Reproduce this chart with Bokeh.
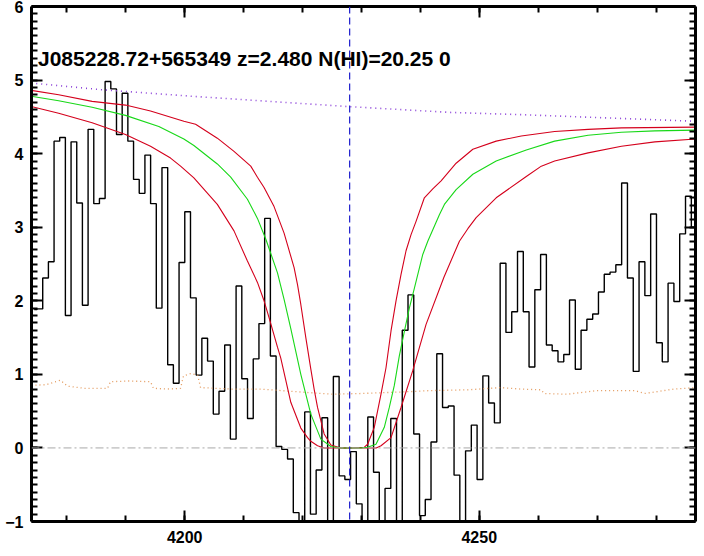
from bokeh.plotting import figure
from bokeh.models import (Range1d, LinearAxis, SingleIntervalTicker, Span, Label,
                          CustomLabelingPolicy)
from bokeh.embed import file_html
from bokeh.resources import INLINE

# ---------------- data ----------------
# observed spectrum (bin centres, Angstrom) and flux
wave = [
    4174.46, 4175.42, 4176.39, 4177.35, 4178.31, 4179.27, 4180.23, 4181.20, 4182.16, 4183.12,
    4184.09, 4185.05, 4186.01, 4186.98, 4187.94, 4188.91, 4189.87, 4190.84, 4191.80, 4192.77,
    4193.73, 4194.70, 4195.66, 4196.63, 4197.60, 4198.56, 4199.53, 4200.50, 4201.47, 4202.43,
    4203.40, 4204.37, 4205.34, 4206.31, 4207.27, 4208.24, 4209.21, 4210.18, 4211.15, 4212.12,
    4213.09, 4214.06, 4215.03, 4216.00, 4216.97, 4217.95, 4218.92, 4219.89, 4220.86, 4221.83,
    4222.80, 4223.78, 4224.75, 4225.72, 4226.70, 4227.67, 4228.64, 4229.62, 4230.59, 4231.57,
    4232.54, 4233.52, 4234.49, 4235.47, 4236.44, 4237.42, 4238.39, 4239.37, 4240.35, 4241.32,
    4242.30, 4243.28, 4244.25, 4245.23, 4246.21, 4247.19, 4248.16, 4249.14, 4250.12, 4251.10,
    4252.08, 4253.06, 4254.03, 4255.02, 4256.00, 4256.98, 4257.96, 4258.94, 4259.92, 4260.90,
    4261.88, 4262.87, 4263.85, 4264.83, 4265.81, 4266.79, 4267.77, 4268.76, 4269.74, 4270.72,
    4271.71, 4272.69, 4273.67, 4274.66, 4275.64, 4276.63, 4277.61, 4278.60, 4279.58, 4280.57,
    4281.55, 4282.54, 4283.53, 4284.51, 4285.50, 4286.49,
]
flux = [
    1.88, 1.89, 2.31, 2.53, 4.17, 4.22, 1.80, 4.16, 3.33, 1.94,
    4.33, 3.32, 3.39, 4.98, 4.88, 4.26, 4.82, 4.17, 3.65, 3.46,
    3.98, 3.32, 1.90, 3.81, 1.13, 0.88, 2.52, 3.21, 2.04, 0.99,
    1.49, 1.18, 0.46, 0.77, 1.40, 0.12, 2.20, 0.94, 0.40, 1.21,
    1.69, 3.12, 1.25, 0.02, -0.02, -0.15, -0.88, -1.10, 0.49, -0.90,
    -0.30, 0.41, -1.15, 0.97, -0.38, -0.43, -0.05, -0.76, -1.20, 0.42,
    -0.33, -1.15, -0.55, 0.40, -1.10, 1.60, 2.08, 0.19, -0.92, -0.70,
    0.08, 1.28, 0.55, 0.57, -0.37, -1.15, -0.04, 0.31, -0.43, 0.98,
    0.61, 0.34, 2.51, 1.57, 1.85, 2.67, 1.85, 1.10, 2.15, 2.63,
    1.40, 1.32, 1.17, 1.27, 2.01, 1.07, 1.60, 1.75, 1.82, 2.12,
    2.36, 2.39, 2.49, 3.60, 2.31, 1.04, 2.53, 2.07, 3.18, 1.43,
    1.17, 2.24, 1.99, 2.91, 3.42, 3.00,
]

# best-fit DLA model (green)
model_wave = [4173.96, 4178.61, 4184.29, 4189.95, 4195.61, 4199.86, 4201.56, 4205.54, 4207.81, 4210.65,
              4212.35, 4213.76, 4215.75, 4216.87, 4218.01, 4219.71, 4221.41, 4223.11, 4224.81, 4226.51,
              4228.21, 4229.91, 4231.05, 4232.47, 4233.88, 4234.73, 4235.58, 4236.43, 4237.28, 4238.13,
              4238.98, 4240.41, 4241.26, 4243.23, 4244.08, 4246.07, 4248.91, 4252.87, 4257.98, 4262.79,
              4268.47, 4274.13, 4279.80, 4286.70]
model_flux = [4.78, 4.72, 4.63, 4.52, 4.37, 4.20, 4.11, 3.86, 3.68, 3.38,
              3.12, 2.84, 2.38, 2.02, 1.62, 1.00, 0.46, 0.12, 0.02, 0.00,
              0.00, 0.00, 0.01, 0.05, 0.28, 0.55, 0.85, 1.25, 1.58, 1.90,
              2.17, 2.63, 2.81, 3.17, 3.31, 3.51, 3.72, 3.90, 4.05, 4.17,
              4.25, 4.29, 4.31, 4.32]

# model with N(HI) - error (red, narrower trough)
low_n_wave = [4173.96, 4178.61, 4184.29, 4189.95, 4194.20, 4199.86, 4201.85, 4205.54, 4208.37, 4211.21,
              4212.35, 4213.47, 4215.17, 4216.87, 4217.45, 4218.57, 4219.15, 4219.71, 4220.56, 4221.41,
              4221.97, 4222.55, 4223.67, 4224.81, 4226.51, 4228.21, 4230.50, 4231.05, 4232.18, 4233.32,
              4234.17, 4235.02, 4235.87, 4236.72, 4237.57, 4238.42, 4239.27, 4240.68, 4242.11, 4243.52,
              4246.07, 4248.91, 4252.87, 4257.13, 4262.79, 4268.47, 4274.13, 4286.70]
low_n_flux = [4.86, 4.80, 4.71, 4.66, 4.58, 4.44, 4.40, 4.21, 4.03, 3.83,
              3.68, 3.54, 3.28, 2.92, 2.76, 2.45, 2.22, 1.95, 1.50, 1.07,
              0.80, 0.55, 0.19, 0.04, 0.00, 0.00, 0.01, 0.05, 0.28, 0.73,
              1.09, 1.59, 2.00, 2.36, 2.68, 2.90, 3.08, 3.40, 3.52, 3.63,
              3.87, 4.06, 4.17, 4.24, 4.30, 4.33, 4.35, 4.36]

# model with N(HI) + error (red, wider trough)
high_n_wave = [4173.96, 4178.61, 4184.29, 4189.95, 4194.20, 4197.60, 4199.30, 4201.56, 4205.54, 4208.37,
               4210.65, 4212.35, 4213.47, 4214.32, 4215.75, 4216.31, 4218.01, 4219.71, 4220.85, 4221.41,
               4222.55, 4223.67, 4226.51, 4229.91, 4232.50, 4233.32, 4235.02, 4236.72, 4238.71, 4240.97,
               4244.00, 4246.63, 4248.06, 4249.47, 4252.87, 4257.98, 4260.53, 4262.79, 4268.47, 4274.13,
               4279.80, 4286.70]
high_n_flux = [4.64, 4.55, 4.42, 4.26, 4.10, 3.94, 3.83, 3.67, 3.31, 2.95,
               2.54, 2.25, 2.00, 1.77, 1.37, 1.22, 0.62, 0.27, 0.14, 0.09,
               0.03, 0.00, 0.00, 0.00, 0.00, 0.03, 0.14, 0.55, 1.05, 1.68,
               2.32, 2.81, 2.98, 3.13, 3.40, 3.69, 3.83, 3.90, 4.01, 4.10,
               4.16, 4.20]

# continuum (purple dotted)
cont_wave = [4173.96, 4185.70, 4201.20, 4227.70, 4245.20, 4257.10, 4286.70]
cont_flux = [4.96, 4.87, 4.78, 4.64, 4.56, 4.53, 4.44]

# flux error (orange dotted)
err_wave = [4174.0, 4176.5, 4178.9, 4180.1, 4183.0, 4186.9, 4187.4, 4190.5, 4194.2, 4194.7,
            4197.0, 4199.3, 4199.8, 4201.0, 4202.2, 4202.7, 4208.0, 4212.9, 4219.7, 4225.0,
            4230.0, 4236.7, 4242.0, 4248.0, 4253.7, 4257.0, 4260.5, 4261.0, 4265.0, 4270.0,
            4276.4, 4278.0, 4279.8, 4283.0, 4286.7]
err_flux = [0.85, 0.86, 0.92, 0.84, 0.81, 0.81, 0.90, 0.91, 0.90, 0.81,
            0.80, 0.81, 0.98, 1.01, 0.99, 0.82, 0.80, 0.80, 0.76, 0.73,
            0.74, 0.76, 0.78, 0.79, 0.82, 0.80, 0.79, 0.74, 0.73, 0.78,
            0.78, 0.74, 0.76, 0.80, 0.82]

abs_wave = 4228.0          # Ly-alpha at z=2.480 (blue dashed)
zero_level = 0.0
title_text = "J085228.72+565349 z=2.480 N(HI)=20.25 0"
title_pos = (4175.1, 5.30)

x_lim = (4174.0, 4286.7)
y_lim = (-1.0, 6.0)
x_major, x_minor_n = 50, 5
y_major, y_minor_n = 1, 10

FONT = "Liberation Sans"

# ---------------- figure ----------------
p = figure(width=704, height=556,
           x_range=Range1d(*x_lim), y_range=Range1d(*y_lim),
           output_backend="svg", toolbar_location=None,
           min_border_left=31, min_border_right=9,
           min_border_top=6, min_border_bottom=35)
p.outline_line_color = None
p.grid.visible = False
p.background_fill_color = "white"
p.border_fill_color = "white"

no_labels = CustomLabelingPolicy(code="return new Set()")
right_ax = LinearAxis(major_label_policy=no_labels, major_label_standoff=0,
                      axis_label_standoff=0, major_label_text_font_size="1px")
top_ax = LinearAxis(major_label_policy=no_labels, major_label_standoff=0,
                    axis_label_standoff=0, major_label_text_font_size="1px")
p.add_layout(right_ax, "right")
p.add_layout(top_ax, "above")

bottom, left = p.below[0], p.left[0]
for ax in (bottom, top_ax):
    ax.ticker = SingleIntervalTicker(interval=x_major, num_minor_ticks=x_minor_n)
for ax in (left, right_ax):
    ax.ticker = SingleIntervalTicker(interval=y_major, num_minor_ticks=y_minor_n)

for ax in (bottom, left, right_ax, top_ax):
    ax.axis_line_width = 3
    ax.axis_line_color = "black"
    ax.major_tick_in = 11
    ax.major_tick_out = 0
    ax.minor_tick_in = 6
    ax.minor_tick_out = 0
    ax.major_tick_line_width = 2
    ax.minor_tick_line_width = 2
    ax.major_tick_line_color = "black"
    ax.minor_tick_line_color = "black"
    ax.major_label_text_font = FONT
    ax.major_label_text_font_style = "bold"
    ax.major_label_text_color = "black"

for ax in (bottom, left):
    ax.major_label_text_font_size = "16px"
    ax.axis_label_standoff = 0

left.major_label_standoff = 8
bottom.major_label_standoff = 9

# spectrum
p.step(wave, flux, mode="center", line_color="black", line_width=1.4)
# error
p.line(err_wave, err_flux, line_color="#e3985a", line_dash="1 3", line_width=1.3)
# continuum
p.line(cont_wave, cont_flux, line_color="#8a3fd8", line_dash="1 4", line_width=1.6)
# models
p.line(low_n_wave, low_n_flux, line_color="#d4001c", line_width=1.1)
p.line(high_n_wave, high_n_flux, line_color="#d4001c", line_width=1.1)
p.line(model_wave, model_flux, line_color="#18d818", line_width=1.1)

p.add_layout(Span(location=zero_level, dimension="width", line_color="#a8a8a8",
                  line_dash="8 3 2 3", line_width=1))
p.add_layout(Span(location=abs_wave, dimension="height", line_color="#1c1ccc",
                  line_dash="7 4", line_width=1.2))

p.add_layout(Label(x=title_pos[0], y=title_pos[1], text=title_text,
                   text_font=FONT, text_font_style="bold", text_font_size="21px",
                   text_color="black", text_baseline="alphabetic"))

open("out.html", "w").write(file_html(p, INLINE))
